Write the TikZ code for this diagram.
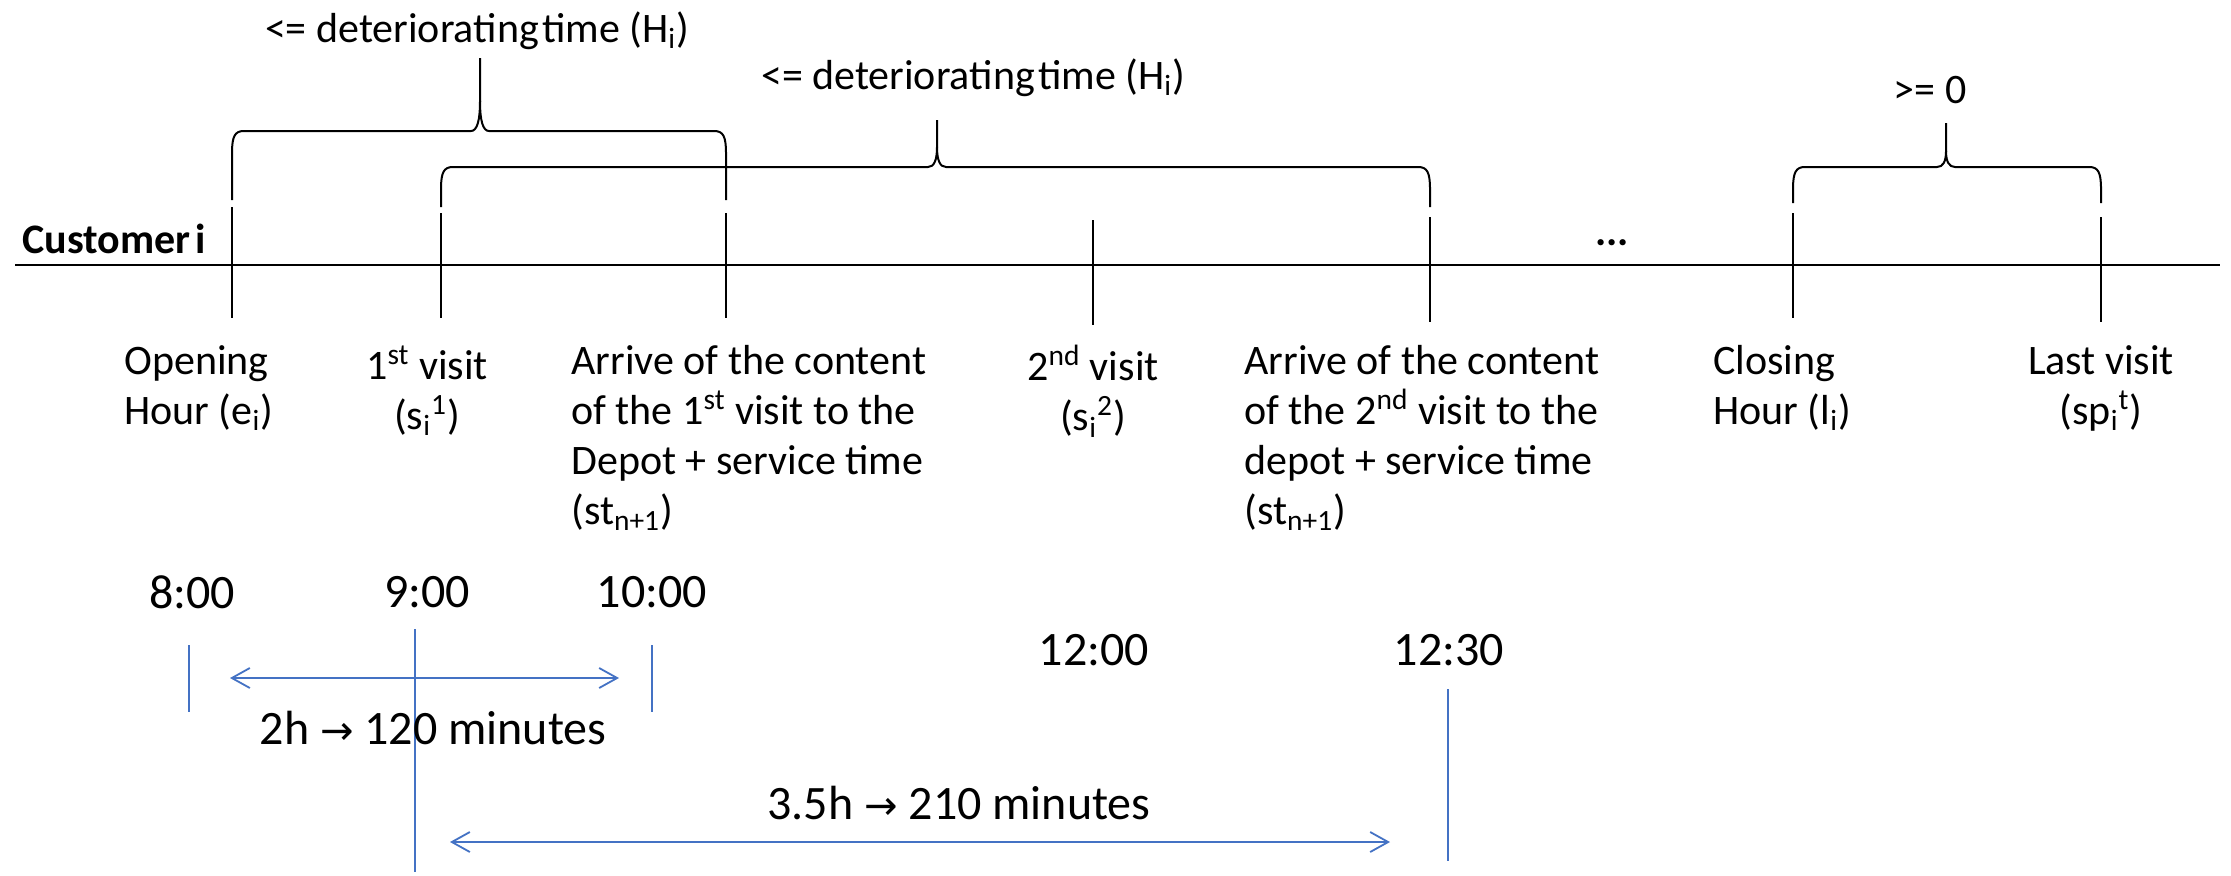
\documentclass[tikz,border=0pt]{standalone}
\usepackage{fontspec}
\setmainfont{Carlito}
\newfontfamily\symfnt{DejaVu Sans}
\usetikzlibrary{arrows.meta}
\definecolor{offblue}{HTML}{4472C4}
% brace: #1 xL, #2 xR, #3 xtip, #4 y of bar, #5 y of tip top, #6 y of lower ends, #7 tip curve height
\newcommand{\tlbrace}[7]{%
  \draw[blk] (#1,#6) -- (#1,#4+22) .. controls (#1,#4+5) and (#1+3,#4) .. (#1+12,#4)
     -- (#3-9,#4) .. controls (#3-3,#4) and (#3,#4-#7/3) .. (#3,#4-#7) -- (#3,#5);
  \draw[blk] (#3,#4-#7) .. controls (#3,#4-#7/3) and (#3+3,#4) .. (#3+9,#4)
     -- (#2-12,#4) .. controls (#2-3,#4) and (#2,#4+5) .. (#2,#4+22) -- (#2,#6);
}
\begin{document}
\begin{tikzpicture}[x=0.5pt,y=-0.5pt,
  blk/.style={draw=black,line width=1pt},
  bl/.style={draw=offblue,line width=0.9pt},
  dimarrow/.style={draw=offblue,line width=0.9pt,
    {Straight Barb[length=9pt,width=10pt]}-{Straight Barb[length=9pt,width=10pt]}},
  lbl/.style={inner sep=0pt,font=\fontsize{21}{25}\selectfont,align=left},
  ttl/.style={inner sep=0pt,font=\fontsize{21}{25}\selectfont},
  tm/.style={inner sep=0pt,font=\fontsize{24}{28}\selectfont}]
\useasboundingbox (0,0) rectangle (2231,875);
\fill[white] (0,0) rectangle (2231,875);

% axis
\coordinate (axL) at (15,265);
\coordinate (axR) at (2220,265);
\draw[blk] (axL) -- (axR);
\node[ttl,font=\fontsize{21}{25}\selectfont\bfseries,anchor=base west] (cust) at (22,253) {Customer\hspace{0.12em}i};
\node[ttl,anchor=base] (dots) at (1612,245) {\textbf{...}};

% ticks
\draw[blk] (232,207) coordinate (tOa) -- (232,318) coordinate (tOb);
\draw[blk] (441,213) coordinate (tVa) -- (441,318) coordinate (tVb);
\draw[blk] (726,213) coordinate (tAa) -- (726,318) coordinate (tAb);
\draw[blk] (1093,220) coordinate (tWa) -- (1093,325) coordinate (tWb);
\draw[blk] (1430,217) coordinate (tBa) -- (1430,322) coordinate (tBb);
\draw[blk] (1793,213) coordinate (tCa) -- (1793,318) coordinate (tCb);
\draw[blk] (2101,217) coordinate (tLa) -- (2101,322) coordinate (tLb);

% braces
\tlbrace{232}{726}{480}{131}{58}{200}{30}
\tlbrace{441}{1430}{937}{167}{120}{207}{20}
\tlbrace{1793}{2101}{1946}{167}{123}{203}{16}

\node[ttl,anchor=base] (h1) at (477,42) {<= deteriorating\hspace{0.08em}time (H\textsubscript{i})};
\node[ttl,anchor=base] (h2) at (973,89) {<= deteriorating\hspace{0.08em}time (H\textsubscript{i})};
\node[ttl,anchor=base] (g0) at (1930,103) {>= 0};

% labels
\node[lbl,anchor=north west] (open) at (124,345) {Opening\\Hour (e\textsubscript{i})};
\node[lbl,anchor=north,align=center] (v1) at (427,345) {1\textsuperscript{st} visit\\(s\textsubscript{i}\textsuperscript{1})};
\node[lbl,anchor=north west] (arr1) at (571,345) {Arrive of the content\\of the 1\textsuperscript{st} visit to the\\Depot + service time\\(st\textsubscript{n+1})};
\node[lbl,anchor=north,align=center] (v2) at (1093,345) {2\textsuperscript{nd} visit\\(s\textsubscript{i}\textsuperscript{2})};
\node[lbl,anchor=north west] (arr2) at (1244,345) {Arrive of the content\\of the 2\textsuperscript{nd} visit to the\\depot + service time\\(st\textsubscript{n+1})};
\node[lbl,anchor=north west] (close) at (1713,345) {Closing\\Hour (l\textsubscript{i})};
\node[lbl,anchor=north,align=center] (last) at (2101,345) {Last visit\\(sp\textsubscript{i}\textsuperscript{t})};

% times
\node[tm] (t8) at (192,592) {8:00};
\node[tm] (t9) at (427,592) {9:00};
\node[tm] (t10) at (652,592) {10:00};
\node[tm] (t12) at (1094,650) {12:00};
\node[tm] (t1230) at (1449,650) {12:30};

% blue markers
\draw[bl] (189,645) coordinate (m8a) -- (189,712) coordinate (m8b);
\draw[bl] (652,645) coordinate (m10a) -- (652,712) coordinate (m10b);
\draw[bl] (415,629) coordinate (m9a) -- (415,872) coordinate (m9b);
\draw[bl] (1448,689) coordinate (m12a) -- (1448,861) coordinate (m12b);

\coordinate (a1L) at (230,678);
\coordinate (a1R) at (619,678);
\draw[dimarrow] (a1L) -- (a1R);
\node[tm] (d1) at (433,728) {2h {\symfnt\fontsize{20}{24}\selectfont →} 120 minutes};

\coordinate (a2L) at (450,842);
\coordinate (a2R) at (1390,842);
\draw[dimarrow] (a2L) -- (a2R);
\node[tm] (d2) at (959,803) {3.5h {\symfnt\fontsize{20}{24}\selectfont →} 210 minutes};
\end{tikzpicture}
\end{document}
